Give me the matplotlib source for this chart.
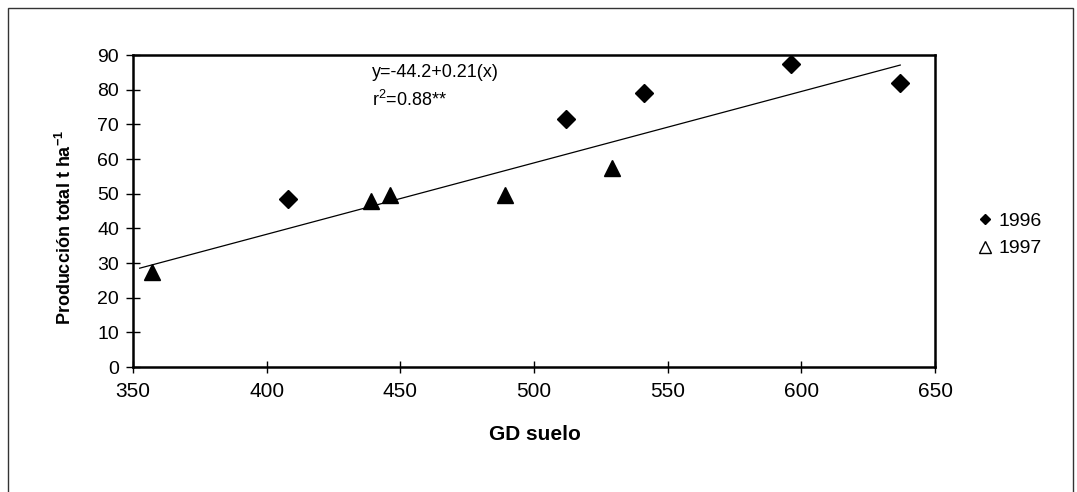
import matplotlib as mpl
mpl.use('Agg')
import matplotlib.pyplot as plt
from matplotlib.lines import Line2D
from matplotlib.patches import Rectangle

plt.rcParams['font.family'] = ['Liberation Sans', 'DejaVu Sans']
plt.rcParams['mathtext.fontset'] = 'custom'
plt.rcParams['mathtext.rm'] = 'Liberation Sans'
plt.rcParams['mathtext.bf'] = 'Liberation Sans:bold'

# data
gd_1996 = [408, 512, 541, 596, 637]
prod_1996 = [48.5, 71.5, 79.0, 87.5, 82.0]
gd_1997 = [357, 439, 446, 489, 529]
prod_1997 = [27.5, 48.0, 49.5, 49.5, 57.3]
fit_x = [352.5, 637]
fit_y = [28.5, 87.1]
xticks = [350, 400, 450, 500, 550, 600, 650]
yticks = [0, 10, 20, 30, 40, 50, 60, 70, 80, 90]

W, H = 1077, 492
fig = plt.figure(figsize=(W/100, H/100), dpi=100)
# outer frame
fig.patches.append(Rectangle((8/W, -0.1), 1065/W, 1.1 - 8/H,
                             transform=fig.transFigure, fill=False,
                             edgecolor='#333333', lw=1.0))

ax = fig.add_axes([133/W, 125/H, 802/W, 312/H])
ax.plot(fit_x, fit_y, color='black', lw=0.9)
ax.plot(gd_1996, prod_1996, 'D', color='black', ms=9, ls='none', clip_on=False)
ax.plot(gd_1997, prod_1997, '^', color='black', ms=11, ls='none', clip_on=False)

ax.set_xlim(350, 650)
ax.set_ylim(0, 90)
ax.set_xticks(xticks)
ax.set_yticks(yticks)
for s in ax.spines.values():
    s.set_linewidth(1.8)
ax.tick_params(axis='x', direction='inout', length=9, width=1, labelsize=15, pad=6)
ax.tick_params(axis='y', direction='inout', length=10, width=1, labelsize=14, pad=5)

fig.text(535/W, 1 - 434/H, 'GD suelo', fontsize=15, fontweight='bold',
         ha='center', va='center')
fig.text(65/W, 1 - 227/H, r'Producción total t ha$^{\mathbf{-1}}$', fontsize=13,
         fontweight='bold', rotation=90, ha='center', va='center')

ax.text(439.5, 85, 'y=-44.2+0.21(x)', fontsize=13, va='center', ha='left')
ax.text(439.5, 77, 'r$^{\\mathrm{2}}$=0.88**', fontsize=13, va='center', ha='left')

handles = [Line2D([], [], marker='D', color='black', ls='none', ms=5),
           Line2D([], [], marker='^', mfc='white', mec='black', mew=1, ls='none', ms=8.5)]
fig.legend(handles, ['1996', '1997'], loc='center left',
           bbox_to_anchor=(979/W, 1 - 235/H), frameon=False,
           borderpad=0, borderaxespad=0,
           fontsize=14, handlelength=0.6, handletextpad=0.38, labelspacing=0.5)

fig.savefig('out.png', dpi=100, facecolor='white')
